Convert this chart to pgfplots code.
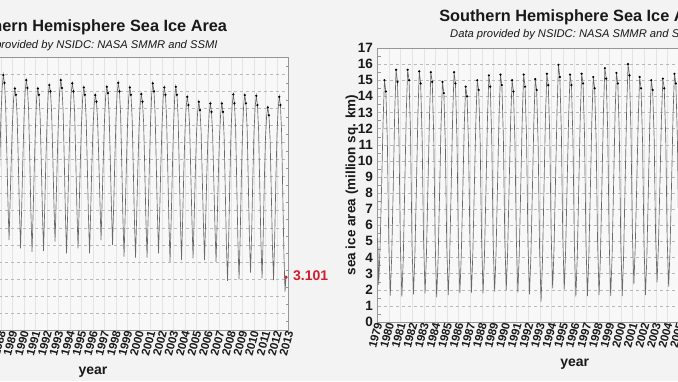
\documentclass[border=0pt]{standalone}
\usepackage{pgfplots}
\pgfplotsset{compat=1.18}
\usepackage{fontspec}
\setmainfont{Liberation Sans}
\definecolor{bg}{RGB}{243,243,243}
\definecolor{plotbg}{RGB}{248,248,248}
\definecolor{gridc}{RGB}{185,185,185}
\definecolor{vgrid}{RGB}{228,228,228}
\definecolor{framec}{RGB}{150,150,150}
\definecolor{linec}{RGB}{105,105,105}
\definecolor{redc}{RGB}{205,30,45}
\definecolor{txt}{RGB}{25,25,25}

\pgfplotsset{
  icechart/.style={
    scale only axis,
    clip=false,
    axis background/.style={fill=plotbg},
    axis line style={framec, line width=0.6pt},
    xmin=1979, xmax=2013,
    xtick={1979,...,2013},
    /pgf/number format/assume math mode=true,
    /pgf/number format/1000 sep={},
    xticklabel style={rotate=75, anchor=east, text=txt,
      font=\bfseries\fontsize{11.5}{11.5}\selectfont, xshift=3pt, yshift=-1.5pt},
    yticklabel style={text=txt, font=\bfseries\fontsize{13.5}{13.5}\selectfont},
    major tick length=0pt,
    minor tick length=3pt,
    minor tick style={framec},
    ytick pos=both,
    yticklabel pos=left,
    xtick pos=bottom,
    xmajorgrids, ymajorgrids,
    x grid style={vgrid, line width=0.4pt},
    y grid style={gridc, dashed, line width=0.4pt},
    every axis plot/.append style={line width=0.65pt},
  }
}

\begin{document}
\begin{tikzpicture}
\fill[bg] (0pt,0pt) rectangle (678pt,381pt);
\useasboundingbox (0pt,0pt) rectangle (678pt,381pt);
\clip (0pt,0pt) rectangle (678pt,381pt);

% ---------------- Northern Hemisphere (left) ----------------
\begin{axis}[icechart, name=L,
  at={(-102.5pt,51pt)}, anchor=south west,
  width=391pt, height=272.7pt,
  ymin=0, ymax=16,
  ytick={0,...,16},
  minor ytick={0.5,1.5,...,15.5},
]
\addplot[linec] coordinates {
(1987.7,5.0) (1987.8,7.4) (1987.9,10.0) (1988.0,12.6) (1988.1,14.2)
(1988.2,14.96) (1988.3,14.5) (1988.4,13.3) (1988.5,10.6) (1988.6,7.6) (1988.7,5.28) (1988.8,7.7) (1988.9,10.2) (1989.0,12.2) (1989.1,13.6)
(1989.2,14.17) (1989.3,13.8) (1989.4,12.6) (1989.5,10.0) (1989.6,7.1) (1989.7,4.79) (1989.8,7.2) (1989.9,10.0) (1990.0,12.4) (1990.1,14.0)
(1990.2,14.66) (1990.3,14.2) (1990.4,12.9) (1990.5,10.1) (1990.6,6.9) (1990.7,4.59) (1990.8,7.0) (1990.9,9.7) (1991.0,12.0) (1991.1,13.6)
(1991.2,14.17) (1991.3,13.8) (1991.4,12.6) (1991.5,9.9) (1991.6,7.0) (1991.7,4.65) (1991.8,7.1) (1991.9,9.9) (1992.0,12.1) (1992.1,13.8)
(1992.2,14.37) (1992.3,14.0) (1992.4,12.8) (1992.5,10.3) (1992.6,7.5) (1992.7,5.18) (1992.8,7.6) (1992.9,10.2) (1993.0,12.5) (1993.1,14.0)
(1993.2,14.66) (1993.3,14.2) (1993.4,12.9) (1993.5,10.0) (1993.6,6.8) (1993.7,4.5) (1993.8,6.9) (1993.9,9.8) (1994.0,12.2) (1994.1,13.9)
(1994.2,14.47) (1994.3,14.0) (1994.4,12.8) (1994.5,10.1) (1994.6,7.1) (1994.7,4.79) (1994.8,7.2) (1994.9,9.9) (1995.0,12.1) (1995.1,13.6)
(1995.2,14.23) (1995.3,13.8) (1995.4,12.5) (1995.5,9.8) (1995.6,6.8) (1995.7,4.5) (1995.8,7.0) (1995.9,9.7) (1996.0,11.8) (1996.1,13.2)
(1996.2,13.78) (1996.3,13.4) (1996.4,12.3) (1996.5,10.1) (1996.6,7.6) (1996.7,5.28) (1996.8,7.7) (1996.9,10.1) (1997.0,12.3) (1997.1,13.7)
(1997.2,14.27) (1997.3,13.9) (1997.4,12.7) (1997.5,10.1) (1997.6,7.3) (1997.7,4.99) (1997.8,7.3) (1997.9,10.0) (1998.0,12.4) (1998.1,13.9)
(1998.2,14.5) (1998.3,14.0) (1998.4,12.7) (1998.5,9.8) (1998.6,6.6) (1998.7,4.3) (1998.8,6.8) (1998.9,9.6) (1999.0,12.0) (1999.1,13.6)
(1999.2,14.23) (1999.3,13.8) (1999.4,12.5) (1999.5,9.6) (1999.6,6.5) (1999.7,4.25) (1999.8,6.7) (1999.9,9.5) (2000.0,11.8) (2000.1,13.2)
(2000.2,13.84) (2000.3,13.4) (2000.4,12.2) (2000.5,9.5) (2000.6,6.5) (2000.7,4.25) (2000.8,6.7) (2000.9,9.6) (2001.0,12.1) (2001.1,13.8)
(2001.2,14.47) (2001.3,14.0) (2001.4,12.7) (2001.5,9.8) (2001.6,6.8) (2001.7,4.5) (2001.8,6.9) (2001.9,9.7) (2002.0,12.0) (2002.1,13.6)
(2002.2,14.23) (2002.3,13.8) (2002.4,12.4) (2002.5,9.5) (2002.6,6.3) (2002.7,4.0) (2002.8,6.5) (2002.9,9.4) (2003.0,11.9) (2003.1,13.6)
(2003.2,14.27) (2003.3,13.8) (2003.4,12.5) (2003.5,9.5) (2003.6,6.4) (2003.7,4.1) (2003.8,6.6) (2003.9,9.4) (2004.0,11.7) (2004.1,13.1)
(2004.2,13.68) (2004.3,13.2) (2004.4,12.0) (2004.5,9.3) (2004.6,6.5) (2004.7,4.2) (2004.8,6.6) (2004.9,9.3) (2005.0,11.5) (2005.1,12.8)
(2005.2,13.39) (2005.3,12.9) (2005.4,11.7) (2005.5,9.0) (2005.6,6.3) (2005.7,4.1) (2005.8,6.5) (2005.9,9.2) (2006.0,11.4) (2006.1,12.7)
(2006.2,13.29) (2006.3,12.8) (2006.4,11.6) (2006.5,8.9) (2006.6,6.2) (2006.7,4.0) (2006.8,6.4) (2006.9,9.1) (2007.0,11.3) (2007.1,12.7)
(2007.2,13.29) (2007.3,12.8) (2007.4,11.4) (2007.5,8.3) (2007.6,5.0) (2007.7,2.89) (2007.8,5.4) (2007.9,8.8) (2008.0,11.6) (2008.1,13.2)
(2008.2,13.82) (2008.3,13.3) (2008.4,11.9) (2008.5,8.6) (2008.6,5.2) (2008.7,2.97) (2008.8,5.5) (2008.9,8.9) (2009.0,11.6) (2009.1,13.2)
(2009.2,13.78) (2009.3,13.3) (2009.4,11.9) (2009.5,8.8) (2009.6,5.5) (2009.7,3.36) (2009.8,5.8) (2009.9,9.0) (2010.0,11.6) (2010.1,13.1)
(2010.2,13.74) (2010.3,13.2) (2010.4,11.7) (2010.5,8.5) (2010.6,5.2) (2010.7,3.03) (2010.8,5.5) (2010.9,8.8) (2011.0,11.3) (2011.1,12.6)
(2011.2,13.06) (2011.3,12.6) (2011.4,11.2) (2011.5,8.2) (2011.6,5.0) (2011.7,2.93) (2011.8,5.4) (2011.9,8.8) (2012.0,11.5) (2012.1,13.0)
(2012.2,13.68) (2012.3,13.2) (2012.4,11.6) (2012.5,8.0) (2012.6,4.5) (2012.7,2.25) (2012.78,3.101)
};
% dark daily-data clusters near the annual maxima
\addplot[only marks, mark=*, mark size=0.75pt, black] coordinates {
(1988.2,14.96) (1988.3,14.5) (1989.2,14.17) (1989.3,13.8) (1990.2,14.66) (1990.3,14.2)
(1991.2,14.17) (1991.3,13.8) (1992.2,14.37) (1992.3,14.0) (1993.2,14.66) (1993.3,14.2)
(1994.2,14.47) (1994.3,14.0) (1995.2,14.23) (1995.3,13.8) (1996.2,13.78) (1996.3,13.4)
(1997.2,14.27) (1997.3,13.9) (1998.2,14.5) (1998.3,14.0) (1999.2,14.23) (1999.3,13.8)
(2000.2,13.84) (2000.3,13.4) (2001.2,14.47) (2001.3,14.0) (2002.2,14.23) (2002.3,13.8)
(2003.2,14.27) (2003.3,13.8) (2004.2,13.68) (2004.3,13.2) (2005.2,13.39) (2005.3,12.9)
(2006.2,13.29) (2006.3,12.8) (2007.2,13.29) (2007.3,12.8) (2008.2,13.82) (2008.3,13.3)
(2009.2,13.78) (2009.3,13.3) (2010.2,13.74) (2010.3,13.2) (2011.2,13.06) (2011.3,12.6)
(2012.2,13.68) (2012.3,13.2)
};
\addplot[only marks, mark=*, mark size=1.4pt, redc,
  nodes near coords={3.101},
  nodes near coords style={anchor=west, xshift=3.5pt, yshift=1.5pt, text=redc,
    font=\bfseries\fontsize{14}{14}\selectfont}] coordinates {(2012.78,3.101)};
\end{axis}

% ---------------- Southern Hemisphere (right) ----------------
\begin{axis}[icechart, name=R,
  at={(377.5pt,59pt)}, anchor=south west,
  width=394.4pt, height=274pt,
  ymin=0, ymax=17,
  ytick={0,...,17},
  minor ytick={0.5,1.5,...,16.5},
  yticklabel style={xshift=-1pt},
]
\addplot[linec] coordinates {
(1979.02,5.2) (1979.10,2.3) (1979.22,4.6) (1979.35,8.3) (1979.48,12.4) (1979.60,15.0) (1979.72,14.3) (1979.85,11.2) (1979.97,5.0)
(1980.10,1.63) (1980.22,4.0) (1980.35,8.1) (1980.48,12.9) (1980.60,15.65) (1980.72,14.9) (1980.85,11.4) (1980.97,4.8)
(1981.10,1.57) (1981.22,3.9) (1981.35,8.4) (1981.48,13.0) (1981.60,15.65) (1981.72,15.0) (1981.85,11.6) (1981.97,4.9)
(1982.10,1.71) (1982.22,4.1) (1982.35,8.2) (1982.48,12.8) (1982.60,15.55) (1982.72,14.8) (1982.85,11.3) (1982.97,5.1)
(1983.10,1.77) (1983.22,4.2) (1983.35,8.5) (1983.48,12.7) (1983.60,15.5) (1983.72,14.9) (1983.85,11.5) (1983.97,5.0)
(1984.10,1.53) (1984.22,3.8) (1984.35,7.9) (1984.48,12.3) (1984.60,14.9) (1984.72,14.2) (1984.85,11.0) (1984.97,4.7)
(1985.10,1.67) (1985.22,4.0) (1985.35,8.3) (1985.48,12.8) (1985.60,15.5) (1985.72,14.8) (1985.85,11.4) (1985.97,5.0)
(1986.10,1.77) (1986.22,4.1) (1986.35,8.0) (1986.48,12.2) (1986.60,14.6) (1986.72,14.0) (1986.85,10.9) (1986.97,4.9)
(1987.10,1.82) (1987.22,4.3) (1987.35,8.4) (1987.48,12.5) (1987.60,15.0) (1987.72,14.4) (1987.85,11.2) (1987.97,5.2)
(1988.10,1.77) (1988.22,4.1) (1988.35,8.2) (1988.48,12.6) (1988.60,15.3) (1988.72,14.6) (1988.85,11.3) (1988.97,5.0)
(1989.10,1.88) (1989.22,4.3) (1989.35,8.6) (1989.48,12.8) (1989.60,15.35) (1989.72,14.7) (1989.85,11.5) (1989.97,5.3)
(1990.10,1.98) (1990.22,4.4) (1990.35,8.5) (1990.48,12.5) (1990.60,15.0) (1990.72,14.3) (1990.85,11.1) (1990.97,5.1)
(1991.10,1.82) (1991.22,4.2) (1991.35,8.4) (1991.48,12.7) (1991.60,15.35) (1991.72,14.6) (1991.85,11.4) (1991.97,4.9)
(1992.10,1.71) (1992.22,4.0) (1992.35,8.1) (1992.48,12.5) (1992.60,15.07) (1992.72,14.4) (1992.85,11.0) (1992.97,4.6)
(1993.10,1.26) (1993.22,3.7) (1993.35,8.2) (1993.48,12.8) (1993.60,15.4) (1993.72,14.7) (1993.85,11.6) (1993.97,5.4)
(1994.10,2.09) (1994.22,4.6) (1994.35,8.9) (1994.48,13.2) (1994.60,15.96) (1994.72,15.2) (1994.85,11.8) (1994.97,5.3)
(1995.10,2.02) (1995.22,4.5) (1995.35,8.6) (1995.48,12.8) (1995.60,15.35) (1995.72,14.7) (1995.85,11.3) (1995.97,4.8)
(1996.10,1.57) (1996.22,4.0) (1996.35,8.3) (1996.48,12.8) (1996.60,15.4) (1996.72,14.8) (1996.85,11.5) (1996.97,4.9)
(1997.10,1.61) (1997.22,4.1) (1997.35,8.2) (1997.48,12.6) (1997.60,15.2) (1997.72,14.5) (1997.85,11.2) (1997.97,5.0)
(1998.10,1.67) (1998.22,4.1) (1998.35,8.6) (1998.48,13.1) (1998.60,15.75) (1998.72,15.1) (1998.85,11.7) (1998.97,5.1)
(1999.10,1.61) (1999.22,4.0) (1999.35,8.4) (1999.48,12.9) (1999.60,15.45) (1999.72,14.8) (1999.85,11.5) (1999.97,5.0)
(2000.10,1.61) (2000.22,4.2) (2000.35,8.7) (2000.48,13.3) (2000.60,16.0) (2000.72,15.3) (2000.85,11.9) (2000.97,5.6)
(2001.10,2.33) (2001.22,4.7) (2001.35,8.6) (2001.48,12.7) (2001.60,15.2) (2001.72,14.5) (2001.85,11.2) (2001.97,4.9)
(2002.10,1.67) (2002.22,4.0) (2002.35,8.2) (2002.48,12.5) (2002.60,15.0) (2002.72,14.4) (2002.85,11.4) (2002.97,5.5)
(2003.10,2.46) (2003.22,4.8) (2003.35,8.7) (2003.48,12.7) (2003.60,15.1) (2003.72,14.5) (2003.85,11.4) (2003.97,5.2)
(2004.10,2.19) (2004.22,4.5) (2004.35,8.6) (2004.48,12.9) (2004.60,15.4) (2004.72,14.8) (2004.85,11.5) (2004.97,5.1)
(2005.10,1.9)
};
% dark daily-data clusters near the annual maxima
\addplot[only marks, mark=*, mark size=0.75pt, black] coordinates {
(1979.60,15.0) (1979.72,14.3) (1980.60,15.65) (1980.72,14.9) (1981.60,15.65) (1981.72,15.0)
(1982.60,15.55) (1982.72,14.8) (1983.60,15.5) (1983.72,14.9) (1984.60,14.9) (1984.72,14.2)
(1985.60,15.5) (1985.72,14.8) (1986.60,14.6) (1986.72,14.0) (1987.60,15.0) (1987.72,14.4)
(1988.60,15.3) (1988.72,14.6) (1989.60,15.35) (1989.72,14.7) (1990.60,15.0) (1990.72,14.3)
(1991.60,15.35) (1991.72,14.6) (1992.60,15.07) (1992.72,14.4) (1993.60,15.4) (1993.72,14.7)
(1994.60,15.96) (1994.72,15.2) (1995.60,15.35) (1995.72,14.7) (1996.60,15.4) (1996.72,14.8)
(1997.60,15.2) (1997.72,14.5) (1998.60,15.75) (1998.72,15.1) (1999.60,15.45) (1999.72,14.8)
(2000.60,16.0) (2000.72,15.3) (2001.60,15.2) (2001.72,14.5) (2002.60,15.0) (2002.72,14.4)
(2003.60,15.1) (2003.72,14.5) (2004.60,15.4) (2004.72,14.8)
};
\end{axis}

% ---------------- titles and labels ----------------
\node[anchor=base, text=txt, font=\bfseries\fontsize{16.3}{16}\selectfont] at ([yshift=26.3pt]L.north) {Northern Hemisphere Sea Ice Area};
\node[anchor=base, text=txt, font=\itshape\fontsize{11.2}{11}\selectfont] at ([yshift=9pt]L.north) {Data provided by NSIDC: NASA SMMR and SSMI};
\node[anchor=base, text=txt, font=\bfseries\fontsize{14}{14}\selectfont] at ([yshift=-44.5pt]L.south) {year};
\node[rotate=90, text=txt, font=\bfseries\fontsize{13.5}{13.5}\selectfont] at ([xshift=-25.5pt]L.west) {sea ice area (million sq. km)};

\node[anchor=base, text=txt, font=\bfseries\fontsize{16.3}{16}\selectfont] at ([yshift=26.7pt]R.north) {Southern Hemisphere Sea Ice Area};
\node[anchor=base, text=txt, font=\itshape\fontsize{11.2}{11}\selectfont] at ([yshift=10.2pt]R.north) {Data provided by NSIDC: NASA SMMR and SSMI};
\node[anchor=base, text=txt, font=\bfseries\fontsize{14}{14}\selectfont] at ([yshift=-44.5pt]R.south) {year};
\node[rotate=90, text=txt, font=\bfseries\fontsize{13.5}{13.5}\selectfont] at ([xshift=-25.5pt]R.west) {sea ice area (million sq. km)};
\end{tikzpicture}
\end{document}
